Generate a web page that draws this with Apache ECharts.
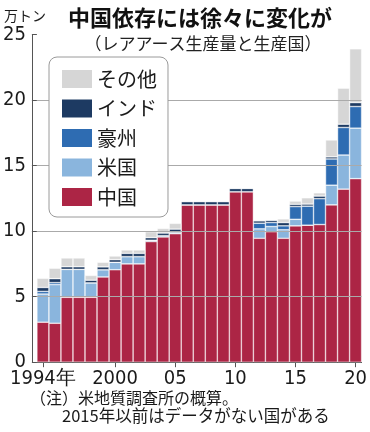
<!DOCTYPE html>
<html>
<head>
<meta charset="utf-8">
<script src="https://cdn.jsdelivr.net/npm/echarts@6/dist/echarts.min.js"></script>
<style>
html,body{margin:0;padding:0;background:#fff;}
#chart{width:370px;height:432px;}
</style>
</head>
<body>
<div id="chart"></div>
<script>
// ---- data (万トン) ----
const years = ['1994','1995','1996','1997','1998','1999','2000','2001','2002','2003','2004','2005','2006','2007','2008','2009','2010','2011','2012','2013','2014','2015','2016','2017','2018','2019','2020'];
const china =     [3.05,2.97,4.95,4.95,4.95,6.5,7.05,7.5,7.5,9.2,9.55,9.8,12.0,12.0,12.0,12.0,13.0,13.0,9.45,9.95,9.45,10.4,10.45,10.5,12.0,13.2,14.0];
const usa =       [2.15,2.95,2.13,2.13,1.1,0.55,0.57,0.55,0.55,0.1,0.1,0.08,0,0,0,0,0,0,0.72,0.4,0.65,0.5,0,0,1.5,2.6,3.85];
const australia = [0.2,0.15,0,0,0,0,0,0,0,0,0,0,0,0,0,0,0,0,0.43,0.3,0.3,0.97,1.45,1.97,2.0,2.1,1.65];
const india =     [0.3,0.3,0.2,0.2,0.2,0.22,0.2,0.25,0.25,0.2,0.2,0.27,0.25,0.25,0.25,0.25,0.25,0.25,0.18,0.17,0.25,0.17,0.16,0.2,0.16,0.25,0.3];
const others =    [0.7,0.8,0.67,0.67,0.37,0.35,0.28,0.26,0.26,0.45,0.35,0.44,0,0,0,0,0,0,0.07,0.05,0.28,0.25,0.48,0.25,1.29,2.75,4.1];
const seriesNames = ['中国','米国','豪州','インド','その他'];
const legendOrder = ['その他','インド','豪州','米国','中国'];
const xTickLabels = {'1994':'1994年','2000':'2000','2005':'05','2010':'10','2015':'15','2020':'20'};
const yGridValues = [5,10,15,20];
const titleText = '中国依存には徐々に変化が';
const subtitleText = '（レアアース生産量と生産国）';
const unitText = '万トン';
const note1 = '（注）米地質調査所の概算。';
const note2 = '2015年以前はデータがない国がある';

const colors = ['#AC2545','#8AB5DD','#2E6CB2','#1D3A62','#D6D6D6'];
const values = [china, usa, australia, india, others];

const jp = '"Noto Sans CJK JP", "Noto Sans", sans-serif';
const num = '"Liberation Sans Narrow", "DejaVu Sans Condensed", "Liberation Sans", sans-serif';

const chart = echarts.init(document.getElementById('chart'), null, {renderer:'canvas'});

const series = seriesNames.map((n, i) => ({
  name: n,
  type: 'bar',
  stack: 'total',
  data: values[i],
  barCategoryGap: 0,
  barWidth: '100%',
  z: 3,
  itemStyle: { color: colors[i], borderColor: 'rgba(255,255,255,0.75)', borderWidth: 0.6 },
  emphasis: { disabled: true }
}));
series.push({
  name: 'grid',
  type: 'line',
  data: [],
  z: 1,
  silent: true,
  markLine: {
    silent: true,
    symbol: 'none',
    label: { show: false },
    lineStyle: { color: '#aaaaaa', width: 1, type: 'solid' },
    data: yGridValues.map(v => ({ yAxis: v }))
  }
});

chart.setOption({
  animation: false,
  backgroundColor: '#fff',
  grid: { left: 35, right: 8, top: 34.4, bottom: 69.8, containLabel: false },
  legend: {
    data: legendOrder,
    orient: 'vertical',
    left: 49, top: 57,
    itemWidth: 30, itemHeight: 18, itemGap: 9.5,
    padding: [12, 11, 10, 13],
    backgroundColor: '#fff',
    borderColor: '#9a9a9a', borderWidth: 1, borderRadius: 8,
    icon: 'rect',
    itemStyle: { borderWidth: 0 },
    selectedMode: false,
    textStyle: { fontSize: 20, fontFamily: jp, color: '#1a1a1a', lineHeight: 20, padding: [0,0,0,0] },
    z: 10
  },
  xAxis: {
    type: 'category',
    data: years,
    axisLine: { show: true, lineStyle: { color: '#555', width: 1 } },
    axisTick: {
      show: true, length: 5, alignWithLabel: true,
      interval: (idx, v) => xTickLabels[v] !== undefined,
      lineStyle: { color: '#555' }
    },
    axisLabel: {
      interval: (idx, v) => xTickLabels[v] !== undefined,
      formatter: v => xTickLabels[v] || '',
      fontSize: 20, fontFamily: num, color: '#1a1a1a', margin: 7
    },
    splitLine: { show: false }
  },
  yAxis: {
    type: 'value',
    min: 0, max: 25, interval: 5,
    offset: 5,
    axisLine: { show: true, lineStyle: { color: '#555', width: 1 } },
    axisTick: { show: true, inside: true, length: 5, lineStyle: { color: '#555' } },
    axisLabel: { fontSize: 20, fontFamily: num, color: '#1a1a1a', margin: 6 },
    splitLine: { show: false }
  },
  series: series,
  graphic: [
    { type: 'text', left: 4, top: 9, style: { text: unitText, font: '14px ' + jp, fill: '#1a1a1a' } },
    { type: 'text', x: 200, y: 18, style: { text: titleText, font: 'bold 22px ' + jp, fill: '#111', textAlign: 'center', textVerticalAlign: 'middle' } },
    { type: 'text', x: 203, y: 44, style: { text: subtitleText, font: '17px ' + jp, fill: '#222', textAlign: 'center', textVerticalAlign: 'middle' } },
    { type: 'text', x: 30, y: 398, style: { text: note1, font: '16px ' + jp, fill: '#1a1a1a', textAlign: 'left', textVerticalAlign: 'middle' } },
    { type: 'text', x: 62, y: 416, style: { text: note2, font: '16.5px ' + jp, fill: '#1a1a1a', textAlign: 'left', textVerticalAlign: 'middle' } }
  ]
});
</script>
</body>
</html>
